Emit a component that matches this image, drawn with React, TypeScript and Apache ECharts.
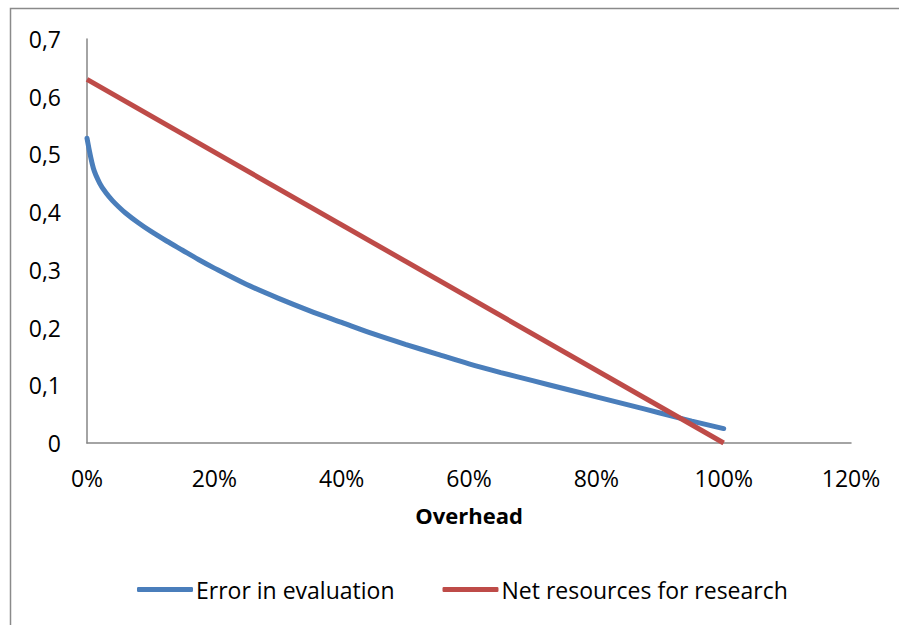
import React, { useEffect, useRef } from "react";
import * as echarts from "echarts";

const overhead = [0, 0.01, 0.02, 0.03, 0.04, 0.05, 0.06, 0.08, 0.1, 0.125, 0.15, 0.175, 0.2, 0.25, 0.3, 0.35, 0.4, 0.45, 0.5, 0.55, 0.6, 0.65, 0.7, 0.75, 0.8, 0.85, 0.9, 0.95, 1.0];
const errorInEvaluation = [0.528, 0.476, 0.45, 0.433, 0.42, 0.409, 0.399, 0.382, 0.367, 0.35, 0.334, 0.318, 0.303, 0.275, 0.251, 0.229, 0.209, 0.189, 0.171, 0.154, 0.137, 0.122, 0.108, 0.094, 0.08, 0.066, 0.052, 0.038, 0.025];
const netOverhead = [0, 1.0];
const netResources = [0.63, 0];

const seriesNames = ["Error in evaluation", "Net resources for research"];
const xTicks = { min: 0, max: 1.2, interval: 0.2 };
const yTicks = { min: 0, max: 0.7, interval: 0.1 };
const xAxisTitle = "Overhead";

const FONT = "'Open Sans', 'Noto Sans', sans-serif";

export default function App() {
  const ref = useRef<HTMLDivElement>(null);
  useEffect(() => {
    if (!ref.current) return;
    const chart = echarts.init(ref.current, null, { renderer: "svg" });
    chart.setOption({
      animation: false,
      backgroundColor: "#ffffff",
      textStyle: { fontFamily: FONT },
      graphic: [
        {
          type: "rect",
          shape: { x: 10.5, y: 8.5, width: 1000, height: 1000 },
          style: { fill: "none", stroke: "#8a8a8a", lineWidth: 1.5 },
          silent: true,
        },
      ],
      grid: { left: 87, right: 48, top: 39, bottom: 182, containLabel: false },
      legend: {
        left: 132,
        top: 573,
        itemWidth: 56,
        itemHeight: 5,
        itemGap: 48,
        icon: "roundRect",
        textStyle: { fontFamily: FONT, fontSize: 23, color: "#000", padding: [0, 0, 0, -2] },
        data: seriesNames,
      },
      xAxis: {
        type: "value",
        min: xTicks.min,
        max: xTicks.max,
        interval: xTicks.interval,
        name: xAxisTitle,
        nameLocation: "middle",
        nameGap: 61,
        nameTextStyle: { fontFamily: FONT, fontSize: 22, fontWeight: "bold", color: "#000" },
        axisLine: { show: true, lineStyle: { color: "#868686", width: 1.5 } },
        axisTick: { show: false },
        splitLine: { show: false },
        axisLabel: {
          margin: 23,
          fontFamily: FONT,
          fontSize: 23,
          color: "#000",
          formatter: (v: number) => `${Math.round(v * 100)}%`,
        },
      },
      yAxis: {
        type: "value",
        min: yTicks.min,
        max: yTicks.max,
        interval: yTicks.interval,
        axisLine: { show: true, lineStyle: { color: "#868686", width: 1.5 } },
        axisTick: { show: false },
        splitLine: { show: false },
        axisLabel: {
          margin: 26,
          fontFamily: FONT,
          fontSize: 23,
          color: "#000",
          formatter: (v: number) => (v === 0 ? "0" : v.toFixed(1).replace(".", ",")),
        },
      },
      series: [
        {
          name: seriesNames[0],
          type: "line",
          smooth: 0.3,
          showSymbol: false,
          symbol: "none",
          data: overhead.map((x, i) => [x, errorInEvaluation[i]]),
          lineStyle: { color: "#4A7EBB", width: 5, cap: "round" },
          itemStyle: { color: "#4A7EBB" },
        },
        {
          name: seriesNames[1],
          type: "line",
          showSymbol: false,
          symbol: "none",
          data: netOverhead.map((x, i) => [x, netResources[i]]),
          lineStyle: { color: "#BE4B48", width: 5 },
          itemStyle: { color: "#BE4B48" },
        },
      ],
    });
    return () => chart.dispose();
  }, []);
  return (
    <div
      ref={ref}
      style={{ position: "fixed", left: 0, top: 0, width: 899, height: 625, background: "#fff" }}
    />
  );
}
